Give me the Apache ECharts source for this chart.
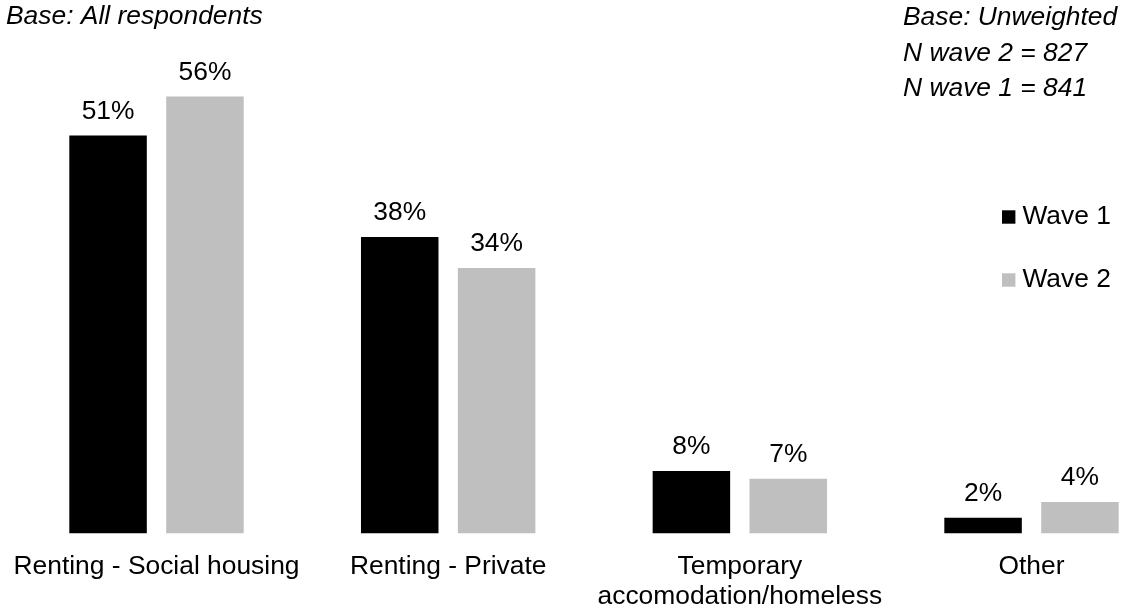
<!DOCTYPE html>
<html>
<head>
<meta charset="utf-8">
<script src="https://cdn.jsdelivr.net/npm/echarts@6/dist/echarts.min.js"></script>
<style>
  html, body { margin: 0; padding: 0; background: #fff; }
  #chart { width: 1121px; height: 608px; }
</style>
</head>
<body>
<div id="chart"></div>
<script>
// Housing tenure by survey wave (percent of respondents)
const categories = ['Renting - Social housing', 'Renting - Private', 'Temporary\naccomodation/homeless', 'Other'];
const wave1 = [51, 38, 8, 2];
const wave2 = [56, 34, 7, 4];
const seriesNames = ['Wave 1', 'Wave 2'];
const baseNote = 'Base: All respondents';
const sampleNote = ['Base: Unweighted', 'N wave 2 = 827', 'N wave 1 = 841'];

const FONT = '"Liberation Sans", Arial, sans-serif';
const FS = 26.4;

const chart = echarts.init(document.getElementById('chart'), null, { renderer: 'canvas' });

const barLabel = {
  show: true,
  position: 'top',
  distance: 11,
  formatter: '{c}%',
  color: '#000',
  fontFamily: FONT,
  fontSize: FS
};

chart.setOption({
  backgroundColor: '#fff',
  animation: false,
  title: [
    {
      text: baseNote,
      left: 6, top: 4, padding: 0,
      textStyle: { fontFamily: FONT, fontStyle: 'italic', fontWeight: 'normal', fontSize: FS, color: '#000' }
    },
    {
      text: sampleNote.join('\n'),
      left: 903, top: 0, padding: 0,
      textStyle: { fontFamily: FONT, fontStyle: 'italic', fontWeight: 'normal', fontSize: FS, lineHeight: 35.5, color: '#000' }
    }
  ],
  legend: {
    orient: 'vertical',
    left: 1002, top: 204,
    padding: 0,
    icon: 'rect',
    itemWidth: 13.4, itemHeight: 13.4,
    itemGap: 37,
    textStyle: { fontFamily: FONT, fontSize: FS, color: '#000', padding: [0, 0, 0, 2] },
    data: seriesNames
  },
  // category centres sit on the axis ticks, one band apart
  grid: { left: 156.5, top: 65.3, width: 875, height: 468, containLabel: false, outerBoundsMode: 'none' },
  xAxis: {
    type: 'category',
    data: categories,
    boundaryGap: false,
    axisLine: { show: false },
    axisTick: { show: false },
    axisLabel: {
      interval: 0,
      margin: 18,
      fontFamily: FONT,
      fontSize: FS,
      lineHeight: 30,
      color: '#000'
    }
  },
  yAxis: {
    type: 'value',
    min: 0, max: 60,
    show: false,
    splitLine: { show: false }
  },
  series: [
    {
      name: seriesNames[0], type: 'bar', data: wave1,
      barWidth: 77.5, barGap: '25%',
      itemStyle: { color: '#000000' },
      label: barLabel
    },
    {
      name: seriesNames[1], type: 'bar', data: wave2,
      barWidth: 77.5, barGap: '25%',
      itemStyle: { color: '#bfbfbf' },
      label: barLabel
    }
  ]
});
</script>
</body>
</html>
